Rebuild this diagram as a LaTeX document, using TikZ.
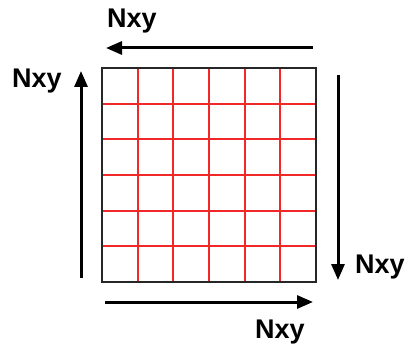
\documentclass[tikz,border=0pt]{standalone}
\usepackage{fontspec}
\setmainfont{Liberation Sans}
\usetikzlibrary{arrows.meta}
\definecolor{gridred}{RGB}{240,40,40}
\begin{document}
\begin{tikzpicture}[x=1pt,y=-1pt,
  flow/.style={line width=3pt,-{Triangle[length=16pt,width=13pt]}},
  lbl/.style={font=\fontsize{27}{30}\selectfont\bfseries,inner sep=0pt}]
\useasboundingbox (0,0) rectangle (406,347);
% 6x6 mesh
\foreach \i in {1,...,5}{
  \draw[gridred,line width=2pt] (102+\i*214/6,68) -- (102+\i*214/6,282);
  \draw[gridred,line width=2pt] (102,68+\i*214/6) -- (316,68+\i*214/6);
}
\node[draw=black!85,line width=2.5pt,minimum width=214pt,minimum height=214pt,inner sep=0pt] (mesh) at (209,175) {};
% arrow end points
\coordinate (tR) at (313,48);
\coordinate (tL) at (106,48);
\coordinate (lB) at (81,278);
\coordinate (lT) at (81,71);
\coordinate (rT) at (338,75);
\coordinate (rB) at (338,280);
\coordinate (bL) at (105,302);
\coordinate (bR) at (313,302);
\draw[flow] (tR) -- (tL);
\draw[flow] (lB) -- (lT);
\draw[flow] (rT) -- (rB);
\draw[flow] (bL) -- (bR);
% labels
\node[lbl,anchor=base west] (nt) at (107,28) {Nxy};
\node[lbl,anchor=base west] (nl) at (12,88) {Nxy};
\node[lbl,anchor=base west] (nr) at (355,273) {Nxy};
\node[lbl,anchor=base west] (nb) at (255,338) {Nxy};
\end{tikzpicture}
\end{document}
